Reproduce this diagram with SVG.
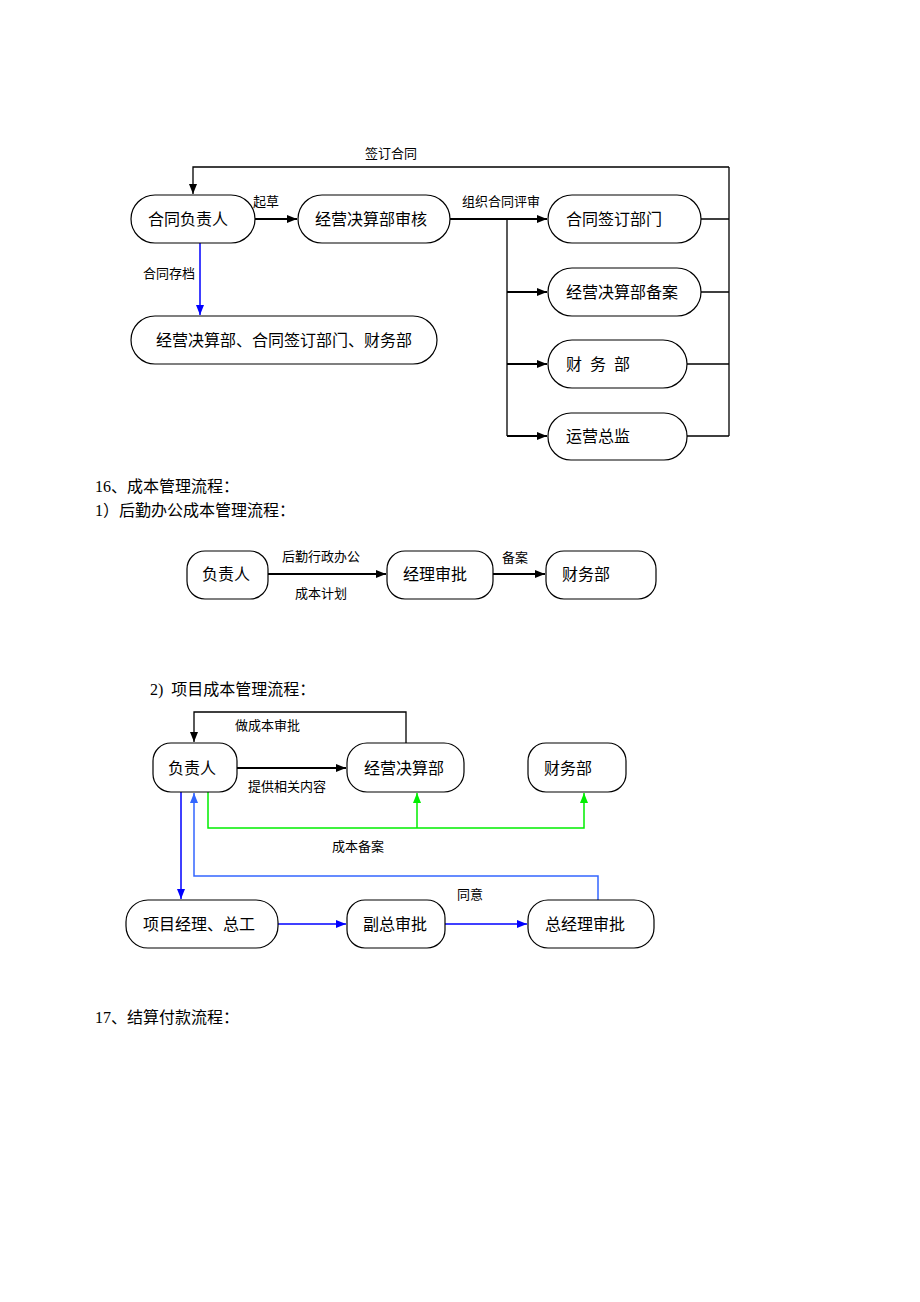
<svg xmlns="http://www.w3.org/2000/svg" width="920" height="1302" viewBox="0 0 920 1302">
<style>
.n{fill:#fff;stroke:#000;stroke-width:1.2}
.t{font-family:"Liberation Serif","Noto Sans CJK SC",serif;font-size:16px;fill:#000}
.l{font-family:"Liberation Serif","Noto Sans CJK SC",serif;font-size:13px;fill:#000}
.h{font-family:"Liberation Serif","Noto Sans CJK SC",serif;font-size:16px;fill:#000}
.k{fill:none;stroke:#000;stroke-width:1.3}
.kb{fill:none;stroke:#000;stroke-width:1.8}
.b{fill:none;stroke:#0000ff;stroke-width:1.5}
.b2{fill:none;stroke:#3366ff;stroke-width:1.5}
.g{fill:none;stroke:#00ee00;stroke-width:1.5}
</style>
<defs>
<marker id="ak" markerWidth="10" markerHeight="8" refX="10" refY="4" orient="auto" markerUnits="userSpaceOnUse"><path d="M0,0 L10,4 L0,8 Z" fill="#000"/></marker>
<marker id="ab" markerWidth="10" markerHeight="8" refX="10" refY="4" orient="auto" markerUnits="userSpaceOnUse"><path d="M0,0 L10,4 L0,8 Z" fill="#0000ff"/></marker>
<marker id="ab2" markerWidth="10" markerHeight="8" refX="10" refY="4" orient="auto" markerUnits="userSpaceOnUse"><path d="M0,0 L10,4 L0,8 Z" fill="#3366ff"/></marker>
<marker id="ag" markerWidth="10" markerHeight="8" refX="10" refY="4" orient="auto" markerUnits="userSpaceOnUse"><path d="M0,0 L10,4 L0,8 Z" fill="#00ee00"/></marker>
</defs>

<g id="connectors">
<!-- diagram 1 -->
<path class="kb" d="M255,219 H297" marker-end="url(#ak)"/>
<path class="k" d="M729,167 H193 V194" marker-end="url(#ak)"/>
<path class="b" d="M200,243 V315" marker-end="url(#ab)"/>
<path class="kb" d="M450,219 H547" marker-end="url(#ak)"/>
<path class="k" d="M507,219 V436"/>
<path class="kb" d="M507,292 H547" marker-end="url(#ak)"/>
<path class="kb" d="M507,364 H547" marker-end="url(#ak)"/>
<path class="kb" d="M507,436 H547" marker-end="url(#ak)"/>
<path class="k" d="M701,219 H729 M701,292 H729 M687,364 H729 M687,436 H729 M729,167 V436"/>
<!-- diagram 2 -->
<path class="kb" d="M268,574 H386" marker-end="url(#ak)"/>
<path class="kb" d="M493,574 H545" marker-end="url(#ak)"/>
<!-- diagram 3 -->
<path class="k" d="M406,743 V712 H194 V742" marker-end="url(#ak)"/>
<path class="kb" d="M237,768 H346" marker-end="url(#ak)"/>
<path class="g" d="M208,792 V828 H584 V793" marker-end="url(#ag)"/>
<path class="g" d="M417,828 V793" marker-end="url(#ag)"/>
<path class="b" d="M181,792 V899" marker-end="url(#ab)"/>
<path class="b2" d="M598,900 V876 H194 V793" marker-end="url(#ab2)"/>
<path class="b" d="M278,924 H346" marker-end="url(#ab)"/>
<path class="b" d="M445,924 H527" marker-end="url(#ab)"/>
</g>

<g id="labels">
<text class="l" x="365" y="158">签订合同</text>
<text class="l" x="253" y="206">起草</text>
<text class="l" x="143" y="278">合同存档</text>
<text class="l" x="462" y="206">组织合同评审</text>
<text class="h" x="95" y="492">16、成本管理流程：</text>
<text class="h" x="95" y="516">1）后勤办公成本管理流程：</text>
<text class="l" x="282" y="561">后勤行政办公</text>
<text class="l" x="295" y="598">成本计划</text>
<text class="l" x="502" y="562">备案</text>
<text class="h" x="150" y="695" xml:space="preserve">2)  项目成本管理流程：</text>
<text class="l" x="235" y="730">做成本审批</text>
<text class="l" x="248" y="791">提供相关内容</text>
<text class="l" x="332" y="851">成本备案</text>
<text class="l" x="457" y="899">同意</text>
<text class="h" x="95" y="1023">17、结算付款流程：</text>
</g>

<g id="n1"><rect class="n" x="131" y="195" width="124" height="48" rx="24"/><text class="t" x="148" y="225">合同负责人</text></g>
<g id="n2"><rect class="n" x="298" y="195" width="152" height="48" rx="24"/><text class="t" x="315" y="225">经营决算部审核</text></g>
<g id="n3"><rect class="n" x="131" y="316" width="306" height="48" rx="24"/><text class="t" x="156" y="346">经营决算部、合同签订部门、财务部</text></g>
<g id="n4"><rect class="n" x="548" y="195" width="153" height="48" rx="24"/><text class="t" x="566" y="225">合同签订部门</text></g>
<g id="n5"><rect class="n" x="548" y="268" width="153" height="48" rx="24"/><text class="t" x="566" y="298">经营决算部备案</text></g>
<g id="n6"><rect class="n" x="548" y="340" width="139" height="48" rx="24"/><text class="t" y="370"><tspan x="566">财</tspan><tspan x="590">务</tspan><tspan x="614">部</tspan></text></g>
<g id="n7"><rect class="n" x="548" y="413" width="139" height="47" rx="23"/><text class="t" x="566" y="442">运营总监</text></g>

<g id="m1"><rect class="n" x="187" y="551" width="81" height="48" rx="18"/><text class="t" x="202" y="580">负责人</text></g>
<g id="m2"><rect class="n" x="387" y="551" width="106" height="48" rx="18"/><text class="t" x="403" y="580">经理审批</text></g>
<g id="m3"><rect class="n" x="546" y="551" width="110" height="48" rx="18"/><text class="t" x="562" y="580">财务部</text></g>

<g id="p1"><rect class="n" x="153" y="743" width="84" height="49" rx="18"/><text class="t" x="168" y="774">负责人</text></g>
<g id="p2"><rect class="n" x="347" y="743" width="117" height="49" rx="20"/><text class="t" x="364" y="774">经营决算部</text></g>
<g id="p3"><rect class="n" x="528" y="743" width="98" height="49" rx="18"/><text class="t" x="544" y="774">财务部</text></g>
<g id="p4"><rect class="n" x="126" y="900" width="152" height="48" rx="22"/><text class="t" x="143" y="930">项目经理、总工</text></g>
<g id="p5"><rect class="n" x="347" y="900" width="98" height="48" rx="18"/><text class="t" x="363" y="930">副总审批</text></g>
<g id="p6"><rect class="n" x="528" y="900" width="126" height="48" rx="20"/><text class="t" x="545" y="930">总经理审批</text></g>
</svg>
